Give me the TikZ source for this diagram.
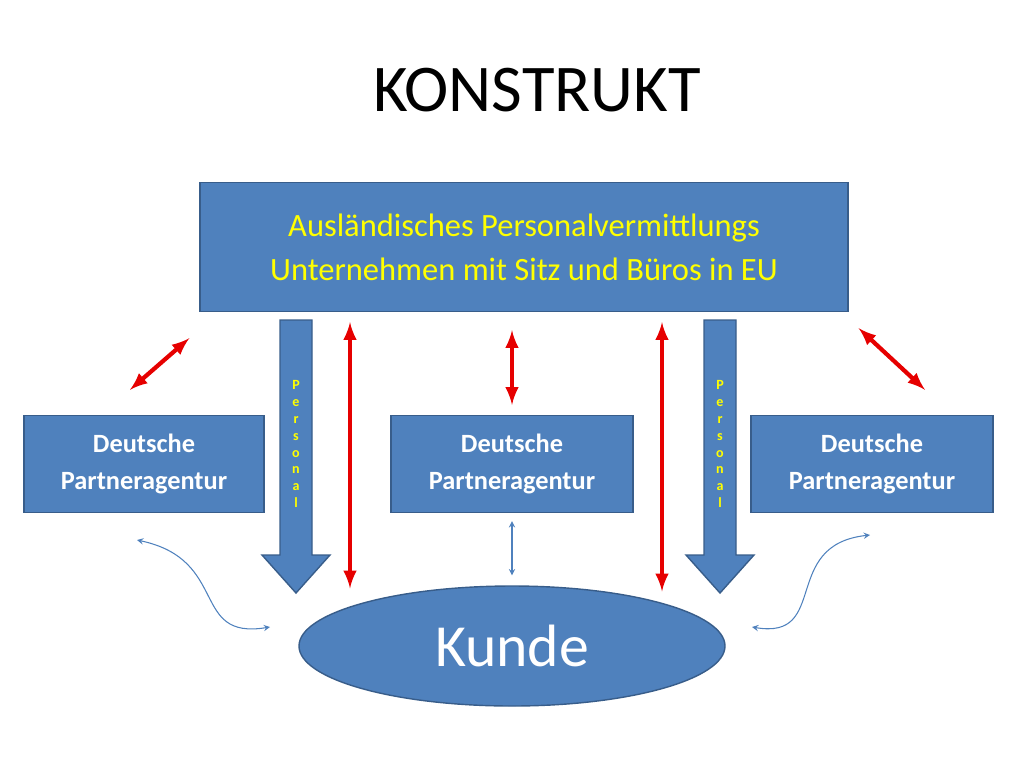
\documentclass[tikz,border=0pt]{standalone}
\usepackage{fontspec}
\setmainfont{Carlito}
\usetikzlibrary{positioning}
\usetikzlibrary{shapes,arrows}
\usetikzlibrary{calc}
\definecolor{boxblue}{RGB}{79, 129, 189}
\definecolor{boxline}{RGB}{56, 93, 138}
\definecolor{txtyellow}{RGB}{255, 255, 0}
\definecolor{arrred}{RGB}{230, 0, 0}
\tikzstyle{box} = [draw=boxline, thick, fill=boxblue, inner sep=0pt]
\tikzstyle{redline} = [draw=arrred, line width=2.4pt, latex-latex]
\tikzstyle{thinline} = [draw=boxblue, semithick, ->, >=stealth]
\tikzstyle{pers} = [text=txtyellow, font=\fontsize{8}{9.6}\selectfont\bfseries, align=center]

\begin{document}
\begin{tikzpicture}[x=0.02cm, y=-0.02cm]
  \useasboundingbox (0,0) rectangle (1024,768);

  % ============================ Boxes =========================================

  \node (title) at (537,90) {\fontsize{38}{40}\selectfont KONSTRUKT};
  \node[box, minimum width=648*0.02cm, minimum height=129*0.02cm,
        text=txtyellow, align=center, font=\fontsize{18.5}{25}\selectfont]
        (top) at (524,247) {Ausländisches Personalvermittlungs\\Unternehmen mit Sitz und Büros in EU};
  \node[box, minimum width=240*0.02cm, minimum height=97*0.02cm, text=white,
        align=center, font=\fontsize{15}{21}\selectfont\bfseries]
        (pa) at (144,464) {Deutsche\\Partneragentur};
  \node[box, minimum width=242*0.02cm, minimum height=97*0.02cm, text=white,
        align=center, font=\fontsize{15}{21}\selectfont\bfseries]
        (pb) at (512,464) {Deutsche\\Partneragentur};
  \node[box, minimum width=242*0.02cm, minimum height=97*0.02cm, text=white,
        align=center, font=\fontsize{15}{21}\selectfont\bfseries]
        (pc) at (872,464) {Deutsche\\Partneragentur};
  \node[box, ellipse, minimum width=426*0.02cm, minimum height=120*0.02cm,
        text=white, font=\fontsize{34}{36}\selectfont]
        (kd) at (512,646) {Kunde};

  % ============================ Personal ======================================

  \draw[box] (280,320) -- (312,320) -- (312,555) -- (330,555) -- (296,593)
    -- (262,555) -- (280,555) -- cycle;
  \node[pers] (persa) at (296,444) {P\\e\\r\\s\\o\\n\\a\\l};
  \draw[box] (704,320) -- (736,320) -- (736,555) -- (754,555) -- (720,593)
    -- (686,555) -- (704,555) -- cycle;
  \node[pers] (persb) at (720,444) {P\\e\\r\\s\\o\\n\\a\\l};

  % ============================= Connect ======================================

  \path[redline] ([xshift=-174*0.02cm, yshift=-10*0.02cm]top.south)
    -- ([xshift=-162*0.02cm, yshift=-3*0.02cm]kd.north);
  \path[redline] ([xshift=-12*0.02cm, yshift=-18*0.02cm]top.south)
    -- ([yshift=10*0.02cm]pb.north);
  \path[redline] ([xshift=138*0.02cm, yshift=-10*0.02cm]top.south)
    -- ([xshift=150*0.02cm, yshift=-6*0.02cm]kd.north);
  \path[redline] ([xshift=-10*0.02cm, yshift=-26*0.02cm]top.south west)
    -- ([xshift=-14*0.02cm, yshift=25*0.02cm]pa.north);
  \path[redline] ([xshift=10*0.02cm, yshift=-16*0.02cm]top.south east)
    -- ([xshift=53*0.02cm, yshift=25*0.02cm]pc.north);

  \path[thinline, <->] ([yshift=-8*0.02cm]pb.south) -- ([yshift=10*0.02cm]pb.south |- kd.north);
  \path[thinline, <->] (137,540) .. controls (230,560) and (190,640) .. (270,627);
  \path[thinline, <->] (870,535) .. controls (780,545) and (830,640) .. (752,627);

\end{tikzpicture}
\end{document}
